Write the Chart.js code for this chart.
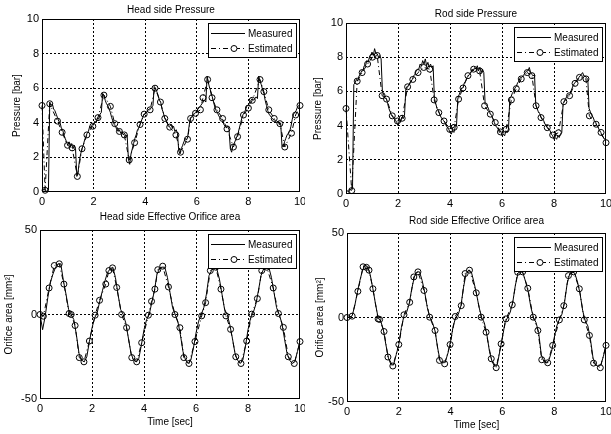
<!DOCTYPE html>
<html>
<head>
<meta charset="utf-8">
<script src="https://cdn.jsdelivr.net/npm/chart.js@4.4.1/dist/chart.umd.min.js"></script>
<style>
body{margin:0;background:#fff;width:611px;height:434px;position:relative;overflow:hidden}
canvas{position:absolute}
</style>
</head>
<body>
<canvas id="c1" width="305" height="212" style="left:0;top:0"></canvas>
<canvas id="c2" width="306" height="212" style="left:305px;top:0"></canvas>
<canvas id="c3" width="305" height="229" style="left:0;top:205px"></canvas>
<canvas id="c4" width="306" height="229" style="left:305px;top:205px"></canvas>
<script>
const FONT = '"Liberation Sans", Arial, sans-serif';

// axis ticks
const timeTicks = [0, 2, 4, 6, 8, 10];
const pressTicks = [0, 2, 4, 6, 8, 10];
const areaTicks = [-50, 0, 50];

// measured series are sampled every dtP / dtA seconds, starting at 0
const dtP = 0.05;
const dtA = 0.1;

// -------- Head side pressure --------
const headPresMeas = [
  0.3,0.1,0.2,0.0,0.1,0.1,5.2,5.0,5.1,4.8,4.7,4.5,4.3,4.1,4.0,3.7,3.6,3.3,3.1,2.9,
  2.7,2.9,2.6,2.8,2.5,2.7,2.5,0.9,1.2,1.8,2.2,2.5,2.7,3.0,3.2,3.4,3.5,3.8,3.7,3.9,
  3.9,4.1,4.0,4.3,4.2,4.5,4.6,5.7,5.6,5.3,5.1,5.0,4.8,4.6,4.3,4.1,3.9,3.8,3.6,3.5,
  3.6,3.4,3.5,3.3,3.4,3.2,3.3,1.9,1.6,2.2,2.5,2.8,3.1,3.3,3.6,3.7,3.9,4.1,4.3,4.5,
  4.5,4.6,4.7,4.8,4.8,4.9,5.0,6.1,6.0,5.8,5.6,5.3,5.2,4.8,4.6,4.3,4.2,4.0,3.8,3.8,
  3.9,3.7,3.8,3.5,3.6,3.4,2.4,2.2,2.5,2.7,2.9,3.1,3.0,3.2,3.8,4.3,4.3,4.5,4.5,4.6,
  4.7,4.8,4.9,5.0,5.1,5.2,5.3,5.2,6.7,6.3,6.0,5.8,5.5,5.2,4.9,4.7,4.6,4.4,4.3,4.2,
  4.2,3.9,3.8,3.7,3.8,3.6,2.5,2.3,2.7,2.8,3.0,3.2,3.4,3.7,4.0,4.3,4.5,4.6,4.8,5.0,
  5.0,5.2,5.3,5.4,5.3,5.4,5.5,5.4,6.7,6.4,6.2,5.9,5.7,5.3,5.0,4.7,4.5,4.4,4.3,4.2,
  4.2,4.1,4.0,4.1,3.9,4.0,2.7,2.6,2.9,3.1,3.3,3.4,3.5,3.8,4.2,4.5,4.6,4.7,4.9,5.0,
  5.1
];
const headPresEstT = [0,0.12,0.3,0.6,0.78,0.99,1.17,1.37,1.55,1.74,1.97,2.17,2.4,2.65,2.82,3.0,3.19,3.38,3.59,3.8,
  3.96,4.19,4.38,4.59,4.76,4.95,5.19,5.37,5.64,5.76,5.95,6.14,6.24,6.42,6.59,6.78,7.0,7.17,7.42,7.58,
  7.81,8.0,8.15,8.45,8.6,8.79,9.0,9.22,9.41,9.67,9.83,10.0];
const headPresEstV = [5.0,0.1,5.1,4.1,3.45,2.7,2.55,0.9,2.5,3.3,3.8,4.3,5.6,4.95,3.95,3.5,3.3,1.85,2.85,3.9,
  4.5,4.75,6.0,5.2,4.25,3.75,3.3,2.3,3.05,4.25,4.55,4.75,5.45,6.5,5.45,4.75,4.25,3.65,2.6,3.2,
  4.45,4.85,5.3,6.5,5.8,4.75,4.25,3.95,2.6,3.4,4.45,5.0];

// -------- Rod side pressure --------
const rodPresMeas = [
  0.1,0.2,0.1,0.3,0.2,0.3,6.4,6.5,6.7,6.6,6.9,7.0,7.2,7.2,7.5,7.5,7.8,7.7,8.0,8.1,
  8.3,8.1,8.5,8.2,8.2,8.0,8.1,7.9,6.0,5.8,5.6,5.6,5.3,5.0,4.8,4.6,4.5,4.4,4.3,4.2,
  4.0,4.3,4.2,4.5,4.4,4.6,6.1,6.3,6.3,6.5,6.6,6.7,6.9,7.0,7.2,7.3,7.3,7.6,7.5,7.8,
  7.6,7.9,7.5,7.7,7.4,7.6,7.4,7.5,5.6,5.3,5.0,4.9,4.7,4.5,4.4,4.3,4.2,4.0,3.9,3.8,
  3.6,3.5,3.7,3.6,3.9,4.0,5.6,5.8,6.0,6.2,6.2,6.5,6.6,6.8,6.9,7.0,7.1,7.3,7.2,7.4,
  7.3,7.5,7.2,7.4,7.1,7.3,7.1,5.3,5.2,5.1,4.9,4.7,4.6,4.4,4.2,4.0,3.9,3.8,3.6,3.7,
  3.4,3.5,3.4,3.7,3.6,3.8,5.6,5.7,5.9,6.0,6.2,6.3,6.5,6.6,6.8,6.8,6.9,7.0,7.1,7.2,
  7.2,7.4,7.1,7.0,6.9,7.0,5.2,5.0,4.8,4.7,4.5,4.4,4.3,4.1,4.0,3.9,3.8,3.7,3.5,3.4,
  3.2,3.3,3.2,3.4,3.3,3.5,3.6,5.3,5.4,5.6,5.7,5.8,5.8,6.0,6.2,6.4,6.5,6.6,6.7,6.8,
  6.9,7.0,7.1,6.9,6.9,6.8,6.7,5.0,4.8,4.6,4.5,4.3,4.2,4.0,3.9,3.7,3.6,3.4,3.3,3.2,
  3.1
];
const rodPresEstT = [0,0.22,0.43,0.62,0.83,1.02,1.2,1.39,1.56,1.78,1.98,2.16,2.37,2.57,2.77,2.99,3.22,3.39,3.57,3.77,
  3.99,4.16,4.33,4.5,4.69,4.91,5.14,5.33,5.55,5.74,5.94,6.16,6.36,6.55,6.74,6.97,7.15,7.31,7.5,7.74,
  7.95,8.17,8.38,8.6,8.81,8.98,9.23,9.36,9.62,9.81,10.0];
const rodPresEstV = [5.0,0.2,6.6,7.1,7.6,8.0,8.1,5.75,5.55,4.57,4.27,4.43,6.27,6.7,7.1,7.4,7.3,5.5,4.76,4.27,
  3.78,3.9,5.55,6.2,6.92,7.3,7.2,5.16,4.67,4.18,3.63,3.78,5.5,6.16,6.73,7.1,6.92,5.16,4.47,3.88,
  3.45,3.58,5.4,5.75,6.47,6.82,6.73,4.57,4.08,3.6,3.0];

// -------- Head side orifice area --------
const headAreaMeas = [
  0,-9,-1,10,19,24,28,30,30,20,
  12,3,0,-3,-12,-23,-27,-28,-25,-16,
  -8,-2,1,8,14,20,25,27,28,22,
  12,3,0,-5,-14,-23,-27,-28,-26,-18,
  -9,-3,0,7,14,24,27,28,28,22,
  13,4,0,-4,-12,-22,-27,-29,-27,-20,
  -11,-4,0,4,12,23,26,28,27,21,
  12,3,0,-6,-14,-23,-27,-29,-27,-19,
  -9,-2,1,6,14,23,27,28,28,22,
  13,4,0,-5,-14,-23,-27,-29,-28,-22,
  -16
];
const headAreaEstT = [0,0.13,0.35,0.55,0.74,0.92,1.12,1.2,1.35,1.51,1.69,1.9,2.12,2.29,2.53,2.65,2.79,2.95,3.14,3.33,
  3.53,3.72,3.91,4.17,4.29,4.42,4.53,4.72,4.94,5.19,5.38,5.53,5.73,5.96,6.22,6.37,6.55,6.76,6.96,7.15,
  7.33,7.53,7.73,7.95,8.14,8.36,8.53,8.72,8.97,9.17,9.36,9.55,9.78,10.0];
const headAreaEstV = [0,-1,15.7,29,30,18,0.6,0,-6.5,-25.5,-28,-15.7,-0.4,8.4,18,26,27.6,16,0,-7.8,
  -25.5,-28,-16.7,-0.4,7.8,15,26.5,28.6,16.3,0,-7.8,-25.5,-29,-16,-0.8,7,26,28,15,-0.8,
  -8.8,-25,-29,-15.7,0.2,9.4,26,28,15.7,0.6,-7.6,-25,-29,-16];

// -------- Rod side orifice area --------
const rodAreaMeas = [
  0,0,1,7,15,22,28,31,30,25,
  17,8,0,-2,-7,-16,-24,-28,-28,-22,
  -16,-6,1,3,8,17,24,27,27,22,
  15,6,0,-3,-8,-18,-26,-27,-26,-21,
  -14,-5,0,2,7,18,26,28,27,21,
  14,6,0,-3,-10,-20,-26,-29,-28,-20,
  -12,-3,0,3,9,19,26,28,26,21,
  15,6,0,-3,-9,-22,-26,-27,-25,-20,
  -12,-5,-1,2,9,20,26,27,26,21,
  14,4,-2,-5,-13,-24,-28,-29,-28,-23,
  -16
];
const rodAreaEstT = [0,0.2,0.42,0.62,0.75,0.85,1.0,1.2,1.26,1.43,1.58,1.77,2.0,2.2,2.42,2.58,2.74,2.97,3.19,3.4,
  3.57,3.77,3.98,4.18,4.41,4.56,4.73,4.99,5.18,5.37,5.57,5.76,5.95,6.14,6.38,6.59,6.78,6.98,7.19,7.37,
  7.52,7.75,7.94,8.2,8.37,8.55,8.75,8.97,9.16,9.36,9.52,9.78,10.0];
const rodAreaEstV = [0,0.8,15.5,30,29.7,28,17,-0.8,-1.2,-8.3,-23.4,-28.7,-16,1.6,9,24,27,16,0.2,-7.7,
  -25.4,-27.4,-16,0.6,7,26,28,14.6,0.2,-8.7,-24.4,-29.7,-15.6,-0.8,7.5,26.8,27,17.3,0.2,-7.7,
  -25,-26.8,-16.5,-1.4,7,24.8,27,17,-1.4,-10.6,-27,-29.7,-16.5];

Chart.defaults.font.family = FONT;
Chart.defaults.color = '#000';

// axes box + legend box drawn inside the plot, like matlab
const boxLegend = {
  id: 'boxLegend',
  afterDatasetsDraw(chart, args, opts) {
    const ctx = chart.ctx, a = chart.chartArea;
    ctx.save();
    ctx.strokeStyle = '#000';
    ctx.lineWidth = 1;
    ctx.setLineDash([]);
    ctx.strokeRect(a.left + 0.5, a.top + 0.5, a.right - a.left - 1, a.bottom - a.top - 1);

    const w = 88, h = 34;
    const x = Math.round(a.right - opts.right - w), y = Math.round(a.top + opts.top);
    ctx.fillStyle = '#fff';
    ctx.fillRect(x, y, w, h);
    ctx.strokeRect(x + 0.5, y + 0.5, w, h);
    ctx.font = '10px ' + FONT;
    ctx.textBaseline = 'middle';
    chart.data.datasets.forEach((ds, i) => {
      const ly = y + 10 + i * 15;
      ctx.setLineDash(ds.borderDash || []);
      ctx.beginPath();
      ctx.moveTo(x + 3, ly + 0.5);
      ctx.lineTo(x + 37, ly + 0.5);
      ctx.stroke();
      ctx.setLineDash([]);
      if (ds.pointRadius > 0) {
        ctx.fillStyle = '#fff';
        ctx.beginPath();
        ctx.arc(x + 26, ly + 0.5, 3, 0, Math.PI * 2);
        ctx.fill();
        ctx.stroke();
      }
      ctx.fillStyle = '#000';
      ctx.fillText(ds.label, x + 40, ly + 1);
    });
    ctx.restore();
  }
};

function plot(id, p) {
  const meas = p.meas.map((v, i) => ({x: +(i * p.dt).toFixed(2), y: v}));
  const est = p.estT.map((t, i) => ({x: t, y: p.estV[i]}));
  const edge = (lo, hi) => c => (c.tick && (c.tick.value === lo || c.tick.value === hi)) ? 'rgba(0,0,0,0)' : '#000';

  return new Chart(document.getElementById(id), {
    type: 'scatter',
    data: {
      datasets: [
        {label: 'Measured', data: meas, showLine: true, borderColor: '#000', borderWidth: 1,
         pointRadius: 0, order: 1},
        {label: 'Estimated', data: est, showLine: true, borderColor: '#000', borderWidth: 1,
         borderDash: [5, 3, 1, 3], pointRadius: 3, pointBorderColor: '#000',
         pointBackgroundColor: 'rgba(0,0,0,0)', pointBorderWidth: 1, order: 0, clip: 4}
      ]
    },
    options: {
      responsive: false,
      animation: false,
      devicePixelRatio: 1,
      layout: {padding: {left: 0, right: p.padR, top: 0, bottom: 0}},
      plugins: {
        legend: {display: false},
        tooltip: {enabled: false},
        title: {display: true, text: p.title, fullSize: false, color: '#000',
                font: {size: 10, weight: 'normal'}, padding: {top: p.tTop, bottom: p.tBot}},
        boxLegend: {top: 4, right: 4}
      },
      scales: {
        x: {
          type: 'linear', min: 0, max: 10,
          afterBuildTicks: s => { s.ticks = timeTicks.map(v => ({value: v})); },
          afterFit: s => { s.height = p.xH; s.paddingLeft = 0; s.paddingRight = 0; },
          grid: {color: edge(0, 10), lineWidth: 1, drawTicks: false},
          border: {display: false, dash: [2, 2]},
          ticks: {color: '#000', font: {size: 11}, padding: 3, maxRotation: 0},
          title: {display: !!p.xTitle, text: p.xTitle || '', color: '#000',
                  font: {size: 10}, padding: {top: 0, bottom: p.xtPad || 0}}
        },
        y: {
          min: p.yMin, max: p.yMax,
          afterBuildTicks: s => { s.ticks = p.yTicks.map(v => ({value: v})); },
          afterFit: s => { s.width = p.yW; s.paddingTop = 0; s.paddingBottom = 0; },
          grid: {color: edge(p.yMin, p.yMax), lineWidth: 1, drawTicks: false},
          border: {display: false, dash: [2, 2]},
          ticks: {color: '#000', font: {size: 11}, padding: 3},
          title: {display: true, text: p.yTitle, color: '#000', font: {size: 10},
                  padding: {top: p.ytPad, bottom: 0}}
        }
      }
    },
    plugins: [boxLegend]
  });
}

plot('c1', {title: 'Head side Pressure', yTitle: 'Pressure [bar]',
  meas: headPresMeas, dt: dtP, estT: headPresEstT, estV: headPresEstV,
  yMin: 0, yMax: 10, yTicks: pressTicks,
  padR: 3, yW: 42, tTop: 4, tBot: 3, xH: 20, ytPad: 11});

plot('c2', {title: 'Rod side Pressure', yTitle: 'Pressure [bar]',
  meas: rodPresMeas, dt: dtP, estT: rodPresEstT, estV: rodPresEstV,
  yMin: 0, yMax: 10, yTicks: pressTicks,
  padR: 4, yW: 41, tTop: 8, tBot: 3, xH: 18, ytPad: 7});

plot('c3', {title: 'Head side Effective Orifice area', yTitle: 'Orifice area [mm²]', xTitle: 'Time [sec]',
  meas: headAreaMeas, dt: dtA, estT: headAreaEstT, estV: headAreaEstV,
  yMin: -50, yMax: 50, yTicks: areaTicks,
  padR: 3, yW: 40, tTop: 6, tBot: 7, xH: 35, ytPad: 3.5, xtPad: 6});

plot('c4', {title: 'Rod side Effective Orifice area', yTitle: 'Orifice area [mm²]', xTitle: 'Time [sec]',
  meas: rodAreaMeas, dt: dtA, estT: rodAreaEstT, estV: rodAreaEstV,
  yMin: -50, yMax: 50, yTicks: areaTicks,
  padR: 5, yW: 42, tTop: 10, tBot: 6, xH: 32, ytPad: 9.5, xtPad: 3});
</script>
</body>
</html>
